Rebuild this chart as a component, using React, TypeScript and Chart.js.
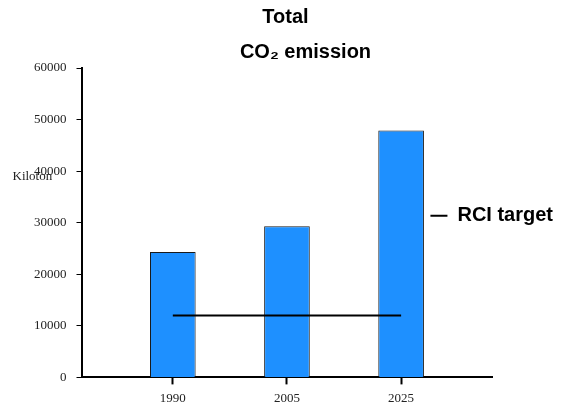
import React, { useEffect, useRef } from 'react';
import { Chart, registerables } from 'chart.js';

Chart.register(...registerables);

// ---- data ----
const categories = ['1990', '2005', '2025'];
const emissions = [24300, 29300, 47900];
const rciTarget = [12000, 12000, 12000];
const yMin = 0;
const yMax = 60000;
const yStep = 10000;
const titleLines = ['Total', 'CO₂ emission'];
const yAxisLabel = 'Kiloton';
const legendLabel = 'RCI target';
const barLabel = 'Total CO₂ emission';

const SANS = '"Liberation Sans", Arial, Helvetica, sans-serif';
const SERIF = '"Liberation Serif", "Times New Roman", Times, serif';

export default function App() {
  const ref = useRef<HTMLCanvasElement>(null);

  useEffect(() => {
    document.body.style.margin = '0';
    if (!ref.current) return;

    // Moves the library legend so it sits partly over the plot's right edge, as in the reference
    const legendPlacer = {
      id: 'legendPlacer',
      afterLayout(chart: any) {
        const lg = chart.legend;
        const a = chart.chartArea;
        if (!lg) return;
        const w = lg.width;
        lg.left = a.right - 72;
        lg.right = lg.left + w;
        lg.top -= 7;
        lg.bottom -= 7;
      },
    };

    const textPlugin = {
      id: 'extraText',
      afterDraw(chart: any) {
        const ctx = chart.ctx;
        const a = chart.chartArea;
        ctx.save();
        ctx.fillStyle = '#000';
        ctx.font = `bold 20px ${SANS}`;
        ctx.textAlign = 'center';
        ctx.textBaseline = 'alphabetic';
        const cx = chart.width / 2;
        ctx.fillText(titleLines[0], cx + 2, 23);
        ctx.fillText(titleLines[1], cx + 22, 58);
        ctx.font = `13px ${SERIF}`;
        ctx.fillStyle = '#222';
        ctx.textAlign = 'left';
        ctx.textBaseline = 'middle';
        ctx.fillText(yAxisLabel, a.left - 69, a.top + a.height * 0.352);
        ctx.restore();
      },
    };

    const chart = new Chart(ref.current, {
      type: 'bar',
      data: {
        datasets: [
          {
            type: 'line',
            label: legendLabel,
            data: categories.map((_, i) => ({ x: i, y: rciTarget[i] })),
            borderColor: '#000',
            backgroundColor: '#000',
            borderWidth: 2,
            pointRadius: 0,
            order: 0,
          } as any,
          {
            type: 'bar',
            label: barLabel,
            data: categories.map((_, i) => ({ x: i, y: emissions[i] })),
            backgroundColor: '#1E90FF',
            borderColor: '#1a1a1a',
            borderWidth: 1,
            barPercentage: 0.4,
            categoryPercentage: 1,
            order: 1,
          } as any,
        ],
      },
      options: {
        animation: false,
        responsive: false,
        layout: { padding: { top: 68, left: 24, right: -68, bottom: -7 } },
        plugins: {
          title: { display: false },
          tooltip: { enabled: false },
          legend: {
            position: 'right',
            fullSize: false,
            labels: {
              filter: (item: any) => item.text === legendLabel,
              usePointStyle: true,
              pointStyle: 'line',
              pointStyleWidth: 17,
              padding: 10,
              color: '#000',
              font: { family: SANS, size: 20, weight: 'bold' },
            },
          },
        },
        scales: {
          x: {
            type: 'linear',
            min: -0.8,
            max: 2.8,
            offset: false,
            afterBuildTicks: (s: any) => {
              s.ticks = categories.map((_, i) => ({ value: i }));
            },
            ticks: {
              callback: (v: any) => categories[v] ?? '',
              autoSkip: false,
              maxRotation: 0,
              padding: 6,
              color: '#222',
              font: { family: SERIF, size: 13 },
            },
            grid: {
              display: true,
              drawOnChartArea: false,
              drawTicks: true,
              tickLength: 7,
              tickWidth: 2,
              tickColor: '#000',
              offset: false,
            },
            border: { display: true, color: '#000', width: 2 },
          },
          y: {
            min: yMin,
            max: yMax,
            ticks: {
              stepSize: yStep,
              padding: 10,
              color: '#222',
              font: { family: SERIF, size: 13 },
              callback: (v: any) => String(v),
            },
            grid: {
              display: true,
              drawOnChartArea: false,
              drawTicks: true,
              tickLength: 5,
              tickWidth: 1,
              tickColor: '#000',
            },
            border: { display: true, color: '#000', width: 2 },
          },
        },
      } as any,
      plugins: [legendPlacer, textPlugin],
    });

    return () => chart.destroy();
  }, []);

  return (
    <div style={{ width: 567, height: 405 }}>
      <canvas ref={ref} width={567} height={405} style={{ display: 'block' }} />
    </div>
  );
}
